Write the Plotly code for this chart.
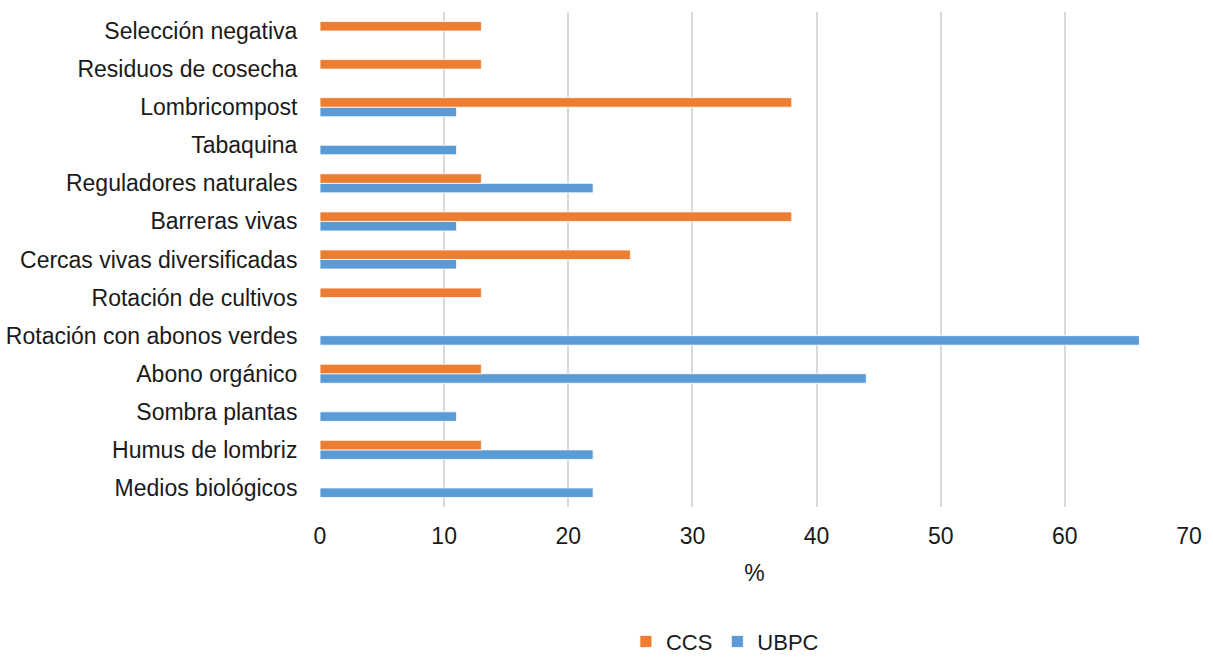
import plotly.graph_objects as go

categories = ["Medios biológicos", "Humus de lombriz", "Sombra plantas", "Abono orgánico",
              "Rotación con abonos verdes", "Rotación de cultivos", "Cercas vivas diversificadas",
              "Barreras vivas", "Reguladores naturales", "Tabaquina", "Lombricompost",
              "Residuos de cosecha", "Selección negativa"]
ccs = [0, 13, 0, 13, 0, 13, 25, 38, 13, 0, 38, 13, 13]
ubpc = [22, 22, 11, 44, 66, 0, 11, 11, 22, 11, 11, 0, 0]
x_ticks = [0, 10, 20, 30, 40, 50, 60, 70]

font = dict(family="Liberation Sans, Arial, sans-serif", size=23, color="#1a1a1a")
legend_font = dict(family="Liberation Sans, Arial, sans-serif", size=22, color="#1a1a1a")

fig = go.Figure()
fig.add_trace(go.Bar(y=categories, x=ubpc, name="UBPC", orientation="h",
                     marker=dict(color="#5B9BD5", line=dict(color="white", width=0.8))))
fig.add_trace(go.Bar(y=categories, x=ccs, name="CCS", orientation="h",
                     marker=dict(color="#ED7D31", line=dict(color="white", width=0.8))))

fig.update_layout(
    width=1213, height=658,
    margin=dict(l=320, r=24, t=12, b=151, autoexpand=False),
    paper_bgcolor="white", plot_bgcolor="white",
    barmode="group", bargap=0.5, bargroupgap=0,
    font=font,
    showlegend=True,
    legend=dict(orientation="h", traceorder="reversed", x=0.352, xanchor="left",
                y=-0.272, yanchor="middle", font=legend_font, itemwidth=30,
                bgcolor="rgba(0,0,0,0)", borderwidth=0),
    xaxis=dict(range=[0, 70], tickvals=x_ticks, showgrid=True, gridcolor="#d9d9d9",
               gridwidth=2, zeroline=False, showline=False, automargin=False,
               title=dict(text="%", font=font, standoff=17), tickfont=font,
               ticks="outside", ticklen=8, tickcolor="rgba(0,0,0,0)"),
    yaxis=dict(categoryorder="array", categoryarray=categories, showgrid=False,
               showline=False, zeroline=False, tickfont=font, automargin=False,
               ticks="outside", ticklen=17, tickcolor="rgba(0,0,0,0)"),
)

fig.write_html("out.html")
